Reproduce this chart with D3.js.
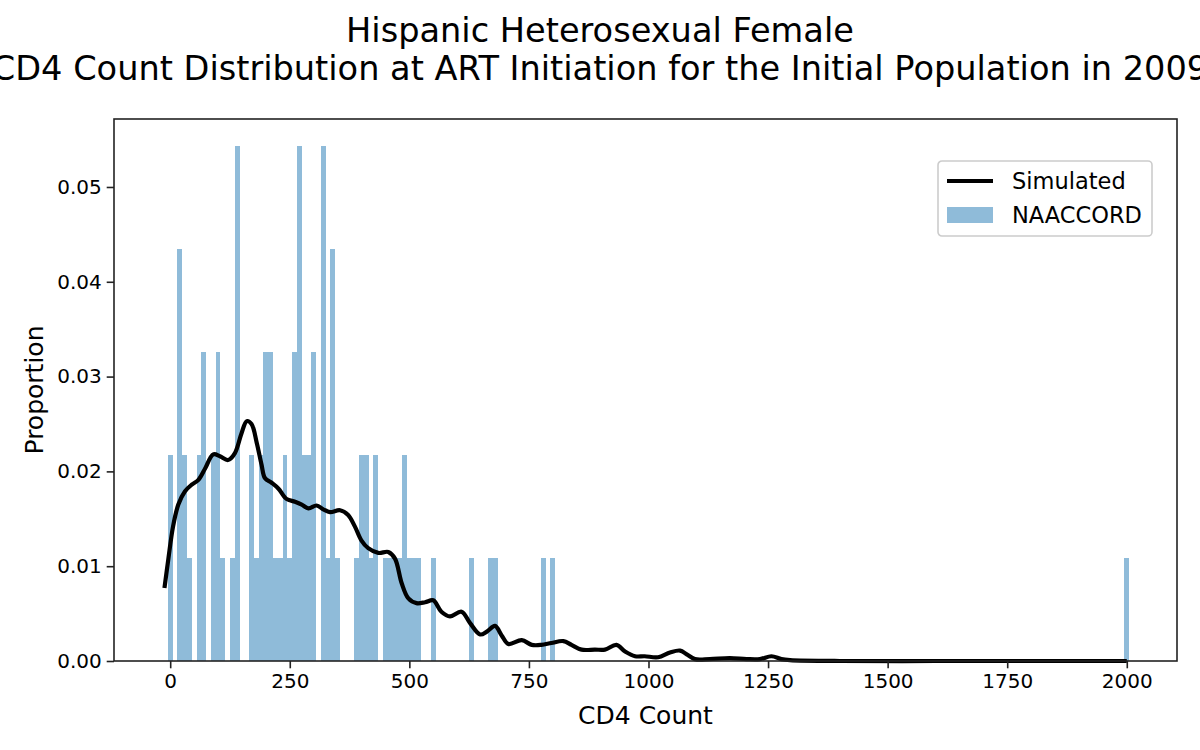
<!DOCTYPE html>
<html>
<head>
<meta charset="utf-8">
<script src="https://cdn.jsdelivr.net/npm/d3@7"></script>
<style>
  body { margin: 0; background: #fff; }
  svg { font-family: "DejaVu Sans", sans-serif; display: block; }
</style>
</head>
<body>
<svg id="chart" width="1200" height="750"></svg>
<script>
// Histogram bins (centres, width 10) and counts out of 92 records
var binCenters = [0, 20, 30, 40, 60, 70, 90, 100, 110, 130, 140, 170, 180, 190, 200, 210, 220, 230, 240, 250,
    260, 270, 280, 290, 300, 320, 330, 340, 350, 390, 400, 410, 420, 430, 450, 460, 470, 480, 490, 500,
    510, 520, 550, 630, 670, 680, 780, 800, 2000];
var binCounts = [2, 4, 2, 1, 2, 3, 2, 3, 1, 1, 5, 2, 1, 2, 3, 3, 1, 1, 2, 1,
    3, 5, 2, 2, 3, 5, 1, 4, 1, 1, 2, 2, 1, 2, 1, 1, 1, 1, 2, 1,
    1, 1, 1, 1, 1, 1, 1, 1, 1];
var totalCount = 92;

// Simulated density curve
var simX = [-12, -4, 6, 17, 31, 45, 59, 73, 90, 104, 121, 135, 149, 160, 170, 181, 191, 198, 212, 226,
    243, 261, 275, 289, 306, 320, 334, 355, 372, 386, 400, 414, 435, 456, 470, 484, 498, 515, 533, 550,
    567, 585, 609, 627, 648, 662, 679, 693, 707, 735, 756, 776, 797, 822, 839, 860, 888, 909, 933, 951,
    972, 992, 1020, 1045, 1066, 1080, 1097, 1128, 1170, 1205, 1233, 1257, 1278, 1296, 1400, 1600, 1800, 2000];
var simY = [.0077, .0107, .0142, .0165, .0179, .0186, .0191, .0203, .0218, .0216, .0212, .0219, .0240, .0253, .0250, .0230, .0207, .0193, .0188, .0182,
    .0171, .0168, .0165, .0161, .0164, .0160, .0157, .0159, .0154, .0142, .0127, .0119, .0114, .0115, .0108, .0082, .0066, .0061, .0062, .0064,
    .0052, .0047, .0052, .0040, .0028, .0031, .0037, .0027, .0018, .0022, .0017, .0017, .0019, .0021, .0017, .0012, .0012, .0012, .0017, .0010,
    .0005, .0005, .0004, .0009, .0011, .0007, .0002, .0002, .0003, .0002, .0002, .0005, .0002, .0001, 0, 0, 0, 0];

var xTicks = [0, 250, 500, 750, 1000, 1250, 1500, 1750, 2000];
var yTicks = [0, 0.01, 0.02, 0.03, 0.04, 0.05];
var titleLines = ["Hispanic Heterosexual Female",
    "CD4 Count Distribution at ART Initiation for the Initial Population in 2009"];

var svg = d3.select("#chart");
var margin = {left: 114, right: 23, top: 119, bottom: 89};
var width = 1200 - margin.left - margin.right,
    height = 750 - margin.top - margin.bottom;

var x = d3.scaleLinear().domain([-117.5, 2105]).range([0, width]);
var y = d3.scaleLinear().domain([0, 0.05717]).range([height, 0]);

var g = svg.append("g").attr("transform", "translate(" + margin.left + "," + margin.top + ")");

// bars
var bins = binCenters.map(function (c, i) { return {c: c, p: binCounts[i] / totalCount}; });
g.append("g").selectAll("rect")
    .data(bins)
    .enter()
    .append("rect")
    .attr("x", function (d) { return x(d.c - 5); })
    .attr("width", function (d) { return x(d.c + 5) - x(d.c - 5); })
    .attr("y", function (d) { return y(d.p); })
    .attr("height", function (d) { return y(0) - y(d.p); })
    .attr("fill", "#1f77b4")
    .attr("fill-opacity", 0.5)
    .attr("shape-rendering", "crispEdges");

// simulated line
var line = d3.line()
    .x(function (d, i) { return x(simX[i]); })
    .y(function (d) { return y(d); })
    .curve(d3.curveCatmullRom.alpha(0.5));
g.append("path")
    .datum(simY)
    .attr("d", line)
    .attr("fill", "none")
    .attr("stroke", "#000")
    .attr("stroke-width", 4.2)
    .attr("stroke-linejoin", "round");

// axes
var xAxis = g.append("g")
    .attr("transform", "translate(0," + height + ")")
    .call(d3.axisBottom(x).tickValues(xTicks).tickFormat(d3.format("d")).tickSize(7.3).tickPadding(5));
var yAxis = g.append("g")
    .call(d3.axisLeft(y).tickValues(yTicks).tickFormat(d3.format(".2f")).tickSize(7.3).tickPadding(5));
[xAxis, yAxis].forEach(function (a) {
    a.select(".domain").remove();
    a.selectAll(".tick line").attr("stroke", "#222").attr("stroke-width", 1.6);
    a.selectAll(".tick text").attr("fill", "#000").style("font-size", "20px").style("font-family", "DejaVu Sans");
});

// frame
g.append("rect")
    .attr("width", width).attr("height", height)
    .attr("fill", "none").attr("stroke", "#222").attr("stroke-width", 1.6);

// titles
svg.selectAll(".title")
    .data(titleLines)
    .enter()
    .append("text")
    .attr("x", 600)
    .attr("y", function (d, i) { return 42 + i * 38; })
    .attr("text-anchor", "middle")
    .style("font-size", "33.6px")
    .text(function (d) { return d; });

svg.append("text")
    .attr("x", margin.left + width / 2)
    .attr("y", 724)
    .attr("text-anchor", "middle")
    .style("font-size", "25px")
    .text("CD4 Count");

svg.append("text")
    .attr("transform", "translate(43," + (margin.top + height / 2) + ") rotate(-90)")
    .attr("text-anchor", "middle")
    .style("font-size", "25px")
    .text("Proportion");

// legend
var legend = svg.append("g").attr("transform", "translate(938,161)");
legend.append("rect")
    .attr("width", 214).attr("height", 75).attr("rx", 4)
    .attr("fill", "#fff").attr("fill-opacity", 0.8)
    .attr("stroke", "#cccccc").attr("stroke-width", 1.6);
legend.append("line")
    .attr("x1", 9).attr("x2", 55).attr("y1", 20).attr("y2", 20)
    .attr("stroke", "#000").attr("stroke-width", 4.2);
legend.append("rect")
    .attr("x", 9).attr("y", 46).attr("width", 46).attr("height", 16)
    .attr("fill", "#1f77b4").attr("fill-opacity", 0.5);
legend.selectAll(".lt")
    .data(["Simulated", "NAACCORD"])
    .enter()
    .append("text")
    .attr("x", 74)
    .attr("y", function (d, i) { return 28 + i * 34; })
    .style("font-size", "22.5px")
    .text(function (d) { return d; });
</script>
</body>
</html>
